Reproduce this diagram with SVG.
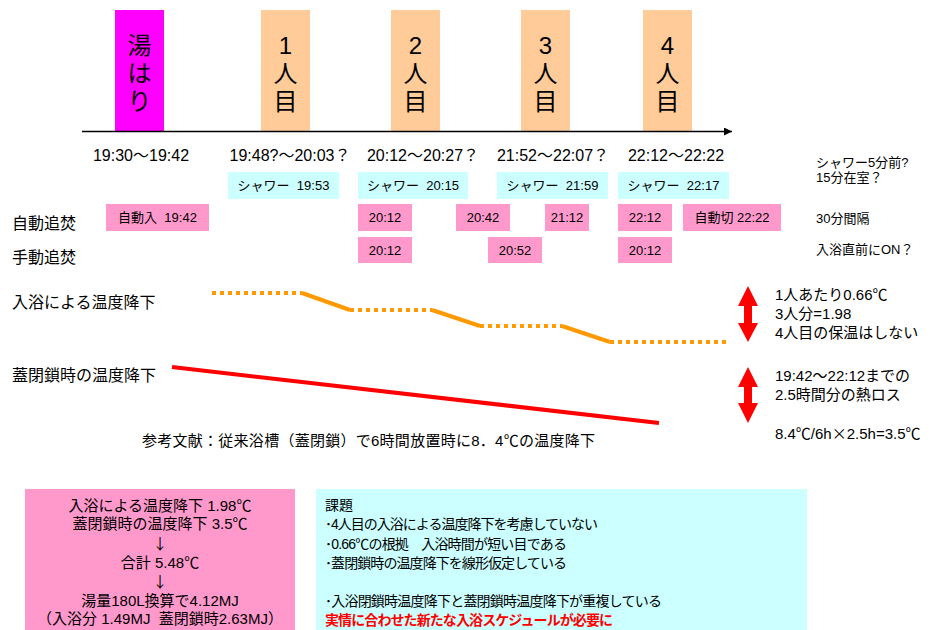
<svg xmlns="http://www.w3.org/2000/svg" width="933" height="630" viewBox="0 0 933 630">
<defs>
<style>
text{font-family:'Liberation Sans','Noto Sans CJK JP',sans-serif;fill:#000;}
.big{font-size:24px;text-anchor:middle;}
.t16{font-size:16px;}
.t15{font-size:15px;}
.t14{font-size:14px;}
.t13{font-size:13px;}
.mid{text-anchor:middle;}
.cjk{font-family:'Noto Sans CJK JP',sans-serif;}
.cyan{fill:#CCFFFF;}
.pink{fill:#FF99CC;}
.person{fill:#FFCC99;}
.orange-dot{stroke:#FF9900;stroke-width:4;fill:none;stroke-dasharray:4 4;}
.orange{stroke:#FF9900;stroke-width:4;fill:none;}
.red{stroke:#FF0000;stroke-width:4;fill:none;}
.dbl{fill:#FF0000;}
</style>
<marker id="ah" viewBox="0 0 10 10" refX="10" refY="5" markerWidth="5" markerHeight="5" orient="auto" markerUnits="strokeWidth">
<path d="M0,0 L10,5 L0,10 z" fill="#000"/>
</marker>
</defs>
<rect width="933" height="630" fill="#fff"/>

<g id="yuhari">
<rect x="115" y="10" width="49" height="121" fill="#FF00FF"/>
<text class="big" x="139.5" y="54">湯</text>
<text class="big" x="139.5" y="82">は</text>
<text class="big" x="139.5" y="110">り</text>
</g>
<g id="person1">
<rect class="person" x="261" y="10" width="49" height="121"/>
<text class="big" x="285.5" y="54">1</text>
<text class="big" x="285.5" y="82">人</text>
<text class="big" x="285.5" y="110">目</text>
</g>
<g id="person2">
<rect class="person" x="391" y="10" width="49" height="121"/>
<text class="big" x="415.5" y="54">2</text>
<text class="big" x="415.5" y="82">人</text>
<text class="big" x="415.5" y="110">目</text>
</g>
<g id="person3">
<rect class="person" x="521" y="10" width="49" height="121"/>
<text class="big" x="545.5" y="54">3</text>
<text class="big" x="545.5" y="82">人</text>
<text class="big" x="545.5" y="110">目</text>
</g>
<g id="person4">
<rect class="person" x="643" y="10" width="49" height="121"/>
<text class="big" x="667.5" y="54">4</text>
<text class="big" x="667.5" y="82">人</text>
<text class="big" x="667.5" y="110">目</text>
</g>

<g id="connectors">
<line x1="82" y1="131.5" x2="732" y2="131.5" stroke="#000" stroke-width="1.6" marker-end="url(#ah)"/>
<polyline class="orange-dot" points="212,293 302,293"/>
<polyline class="orange" points="302,293 350,310"/>
<polyline class="orange-dot" points="350,310 432,310"/>
<polyline class="orange" points="432,310 480,326"/>
<polyline class="orange-dot" points="480,326 562,326"/>
<polyline class="orange" points="562,326 610,342"/>
<polyline class="orange-dot" points="610,342 728,342"/>
<line class="red" x1="172" y1="367" x2="659" y2="423"/>
</g>

<g id="times" class="t16">
<text class="mid" x="141" y="161">19:30〜19:42</text>
<text class="mid" x="290" y="161">19:48?〜20:03？</text>
<text class="mid" x="423" y="161">20:12〜20:27？</text>
<text class="mid" x="553" y="161">21:52〜22:07？</text>
<text class="mid" x="676" y="161">22:12〜22:22</text>
</g>

<g id="showers" class="t13">
<rect class="cyan" x="228" y="172" width="111" height="27"/>
<text class="mid" x="283.5" y="190" xml:space="preserve">シャワー  19:53</text>
<rect class="cyan" x="358" y="172" width="110" height="27"/>
<text class="mid" x="413" y="190" xml:space="preserve">シャワー  20:15</text>
<rect class="cyan" x="497" y="172" width="111" height="27"/>
<text class="mid" x="552.5" y="190" xml:space="preserve">シャワー  21:59</text>
<rect class="cyan" x="618" y="172" width="111" height="27"/>
<text class="mid" x="673.5" y="190" xml:space="preserve">シャワー  22:17</text>
</g>

<g id="auto-reheat" class="t13">
<text class="t16" x="12" y="229">自動追焚</text>
<rect class="pink" x="106" y="204" width="103" height="27"/>
<text class="mid" x="157.5" y="222" xml:space="preserve">自動入  19:42</text>
<rect class="pink" x="358" y="204" width="54" height="27"/>
<text class="mid" x="385" y="222">20:12</text>
<rect class="pink" x="456" y="204" width="54" height="27"/>
<text class="mid" x="483" y="222">20:42</text>
<rect class="pink" x="545" y="204" width="44" height="27"/>
<text class="mid" x="567" y="222">21:12</text>
<rect class="pink" x="618" y="204" width="54" height="27"/>
<text class="mid" x="645" y="222">22:12</text>
<rect class="pink" x="683" y="204" width="98" height="27"/>
<text class="mid" x="732" y="222">自動切 22:22</text>
</g>

<g id="manual-reheat" class="t13">
<text class="t16" x="12" y="263">手動追焚</text>
<rect class="pink" x="358" y="237" width="54" height="26"/>
<text class="mid" x="385" y="255">20:12</text>
<rect class="pink" x="488" y="237" width="54" height="26"/>
<text class="mid" x="515" y="255">20:52</text>
<rect class="pink" x="618" y="237" width="54" height="26"/>
<text class="mid" x="645" y="255">20:12</text>
</g>

<g id="notes" class="t13">
<text x="816" y="167">シャワー5分前?</text>
<text x="816" y="182">15分在室？</text>
<text x="816" y="223">30分間隔</text>
<text x="816" y="254">入浴直前にON？</text>
</g>

<g id="temp-labels" class="t16">
<text x="12" y="308">入浴による温度降下</text>
<text x="12" y="381">蓋閉鎖時の温度降下</text>
</g>

<g id="reference" class="t15">
<text x="142" y="446" textLength="453">参考文献：従来浴槽（蓋閉鎖）で6時間放置時に8．4℃の温度降下</text>
</g>

<g id="arrow1">
<path class="dbl" d="M748,286 L758,306 L752,306 L752,323 L758,323 L748,342 L738,323 L744,323 L744,306 L738,306 Z"/>
</g>
<g id="arrow2">
<path class="dbl" d="M748,367 L758,387 L752,387 L752,403 L758,403 L748,423 L738,403 L744,403 L744,387 L738,387 Z"/>
</g>

<g id="bath-notes" class="t15">
<text x="775" y="300">1人あたり0.66℃</text>
<text x="775" y="319">3人分=1.98</text>
<text x="775" y="338">4人目の保温はしない</text>
<text x="775" y="381">19:42〜22:12までの</text>
<text x="775" y="400">2.5時間分の熱ロス</text>
<text x="775" y="439">8.4℃/6h<tspan class="cjk">×</tspan>2.5h=3.5℃</text>
</g>

<g id="summary" class="t15">
<rect class="pink" x="25" y="489" width="270" height="141"/>
<text class="mid" x="160" y="511">入浴による温度降下 1.98℃</text>
<text class="mid" x="160" y="529">蓋閉鎖時の温度降下 3.5℃</text>
<text class="mid cjk" x="160" y="549">↓</text>
<text class="mid" x="160" y="568">合計 5.48℃</text>
<text class="mid cjk" x="160" y="587">↓</text>
<text class="mid" x="160" y="606">湯量180L換算で4.12MJ</text>
<text class="mid" x="160" y="624" xml:space="preserve">（入浴分 1.49MJ  蓋閉鎖時2.63MJ）</text>
</g>

<g id="issues" class="t14">
<rect class="cyan" x="316" y="489" width="491" height="141"/>
<text x="325" y="510">課題</text>
<text x="325" y="529" textLength="273">･4人目の入浴による温度降下を考慮していない</text>
<text x="325" y="549" textLength="242">･0.66℃の根拠　入浴時間が短い目である</text>
<text x="325" y="568" textLength="242">･蓋閉鎖時の温度降下を線形仮定している</text>
<text x="325" y="606" textLength="337">･入浴閉鎖時温度降下と蓋閉鎖時温度降下が重複している</text>
<text x="325" y="625" textLength="288" style="fill:#FF0000;font-weight:bold">実情に合わせた新たな入浴スケジュールが必要に</text>
</g>
</svg>
